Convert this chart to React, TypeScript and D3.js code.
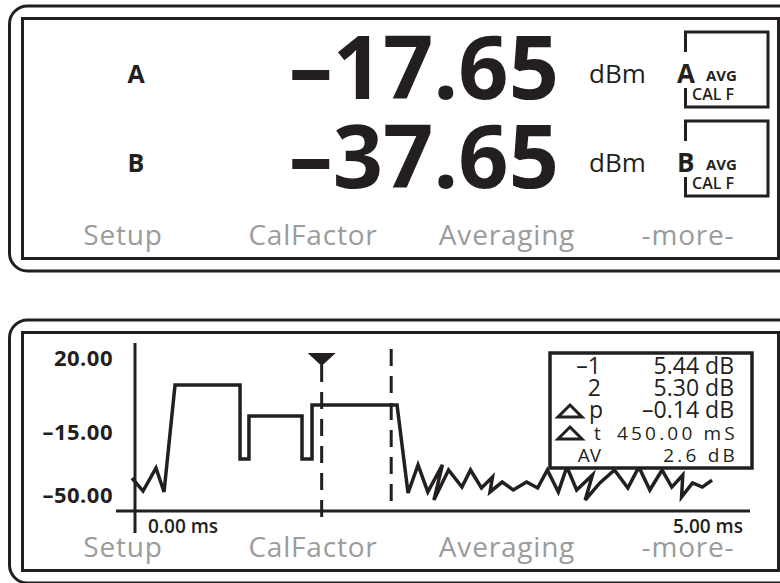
import * as d3 from 'd3';

// readings on the upper display
const channels = ['A', 'B'];
const readings = ['–17.65', '–37.65'];
const units = ['dBm', 'dBm'];
const softkeys = ['Setup', 'CalFactor', 'Averaging', '-more-'];

// trace display
const yTickValues = [20, -15, -50];
const yTickLabels = ['20.00', '–15.00', '–50.00'];
const xTickLabels = ['0.00 ms', '5.00 ms'];
const traceTime = [
  -0.025, 0.066, 0.172, 0.238, 0.328, 0.861, 0.861, 0.934, 0.934, 1.369, 1.369, 1.451, 1.451, 2.148,
  2.238, 2.32, 2.4, 2.52, 2.45, 2.57, 2.68, 2.75, 2.84, 2.93, 2.91, 3.01, 3.1, 3.21, 3.3, 3.38, 3.47,
  3.54, 3.62, 3.75, 3.69, 3.81, 3.93, 4.04, 4.13, 4.22, 4.32, 4.4, 4.49, 4.48, 4.57, 4.65, 4.73,
];
const traceLevel = [
  -40.6, -47.8, -35.0, -48.3, 7.2, 7.2, -30.0, -30.0, -7.4, -7.4, -30.0, -30.0, -2.2, -2.2,
  -48.9, -33.3, -48.3, -33.3, -52.8, -36.1, -45.6, -36.1, -46.1, -40.0, -48.3, -42.8, -47.2, -42.8,
  -46.1, -36.1, -48.3, -34.4, -47.2, -38.9, -52.8, -43.3, -36.1, -46.1, -34.4, -47.2, -36.1, -45.6,
  -38.9, -51.1, -43.3, -45.6, -41.7,
];
const markerTimes = [1.53, 2.1];
const markerLabels = ['–1', '2', 'p', 't', 'AV'];
const markerValues = ['5.44 dB', '5.30 dB', '–0.14 dB', '450.00 mS', '2.6 dB'];

const INK = '#231f20';
const GREY = '#9b9b9b';
const FONT = "'Open Sans', 'Noto Sans', sans-serif";

function Frame({ top, bottom }: { top: number; bottom: number }) {
  return (
    <g fill="none" stroke={INK} strokeWidth={3}>
      <rect x={9.5} y={top} width={790} height={bottom - top} rx={18} ry={18} />
      <rect x={22.5} y={top + 12.5} width={756} height={bottom - top - 25} />
    </g>
  );
}

function Softkeys({ baseline }: { baseline: number }) {
  const sx = d3.scaleOrdinal<string, number>().domain(softkeys).range([123, 313, 507, 688]);
  return (
    <g fill={GREY} fontSize={28} fontFamily={FONT} textAnchor="middle" letterSpacing={0.8}>
      {softkeys.map((k) => (
        <text key={k} x={sx(k)} y={baseline}>
          {k}
        </text>
      ))}
    </g>
  );
}

export default function App() {
  const rowY = d3.scaleOrdinal<string, number>().domain(channels).range([83, 172]);

  const x = d3.scaleLinear().domain([0, 5]).range([135, 745]);
  const y = d3.scaleLinear().domain([-50, -15, 20]).range([495, 432, 358]);
  const line = d3
    .line<number>()
    .x((_, i) => x(traceTime[i]))
    .y((d) => y(d));

  const legendRow = d3.scaleBand<number>().domain(d3.range(markerLabels.length)).range([353, 463]);
  const tri = (cx: number, base: number, w: number, h: number) =>
    `M${cx - w / 2},${base}L${cx + w / 2},${base}L${cx},${base - h}Z`;

  return (
    <svg
      width={780}
      height={583}
      style={{ position: 'absolute', left: 0, top: 0, background: '#fff' }}
      fontFamily={FONT}
    >
      {/* upper display */}
      <Frame top={6} bottom={271} />
      {channels.map((c, i) => {
        const base = rowY(c);
        return (
          <g key={c}>
            <text x={136} y={base} textAnchor="middle" fontSize={25} fontWeight={700} fill={INK}>
              {c}
            </text>
            <text x={559} y={base + 16} textAnchor="end" fontSize={88} fontWeight={700} fill={INK}>
              {readings[i]}
            </text>
            <text x={589} y={base} fontSize={26} fill={INK}>
              {units[i]}
            </text>
            <path
              d={`M685.5,${base - 31}V${base - 51}H768V${base + 24}H685.5V${base + 5}`}
              fill="none"
              stroke={INK}
              strokeWidth={3}
            />
            <text x={677} y={base} fontSize={26} fontWeight={700} fill={INK}>
              {c}
            </text>
            <text x={706} y={base - 2} fontSize={15} fontWeight={700} fill={INK}>
              AVG
            </text>
            <text x={692} y={base + 17} fontSize={16} fontWeight={600} fill={INK}>
              CAL F
            </text>
          </g>
        );
      })}
      <Softkeys baseline={245} />

      {/* trace display */}
      <Frame top={320} bottom={583} />
      <g stroke={INK} strokeWidth={3}>
        <line x1={x(0)} x2={x(0)} y1={343} y2={533} />
        <line x1={116} x2={750} y1={511} y2={511} />
      </g>
      <g fontSize={22} fontWeight={700} fill={INK} textAnchor="end" letterSpacing={0.5}>
        {yTickValues.map((v, i) => (
          <text key={v} x={113} y={y(v) + 8}>
            {yTickLabels[i]}
          </text>
        ))}
      </g>
      <g fontSize={19} fontWeight={600} fill={INK}>
        <text x={x(0) + 13} y={533}>
          {xTickLabels[0]}
        </text>
        <text x={743} y={533} textAnchor="end">
          {xTickLabels[1]}
        </text>
      </g>

      {/* markers */}
      <g stroke={INK} strokeWidth={3} strokeDasharray="17 10">
        <line x1={x(markerTimes[0])} x2={x(markerTimes[0])} y1={365} y2={524} />
        <line x1={x(markerTimes[1])} x2={x(markerTimes[1])} y1={349} y2={512} />
      </g>
      <path
        d={`M${x(markerTimes[0]) - 14},353H${x(markerTimes[0]) + 14}L${x(markerTimes[0])},366Z`}
        fill={INK}
      />

      <path
        d={line(traceLevel) ?? ''}
        fill="none"
        stroke={INK}
        strokeWidth={3.5}
        strokeLinejoin="miter"
      />

      {/* marker readout */}
      <rect x={550} y={353} width={202} height={115} fill="#fff" stroke={INK} strokeWidth={3.5} />
      {markerLabels.map((lab, i) => {
        const base = (legendRow(i) ?? 0) + legendRow.bandwidth() - 1;
        const small = i >= 3;
        return (
          <g key={lab} fill={INK}>
            {(i === 2 || i === 3) && (
              <path d={tri(570, base - 1, 24, 12)} fill="none" stroke={INK} strokeWidth={3} />
            )}
            <text
              x={i === 2 ? 589 : i === 3 ? 594 : 601}
              y={base}
              fontSize={small ? 19 : 23}
              textAnchor={i === 2 || i === 3 ? 'start' : 'end'}
            >
              {lab}
            </text>
            <text
              x={small ? 738 : 734}
              y={base}
              fontSize={small ? 19 : 23}
              textAnchor="end"
              letterSpacing={small ? 3.2 : 0}
            >
              {markerValues[i]}
            </text>
          </g>
        );
      })}
      <Softkeys baseline={557} />
    </svg>
  );
}
